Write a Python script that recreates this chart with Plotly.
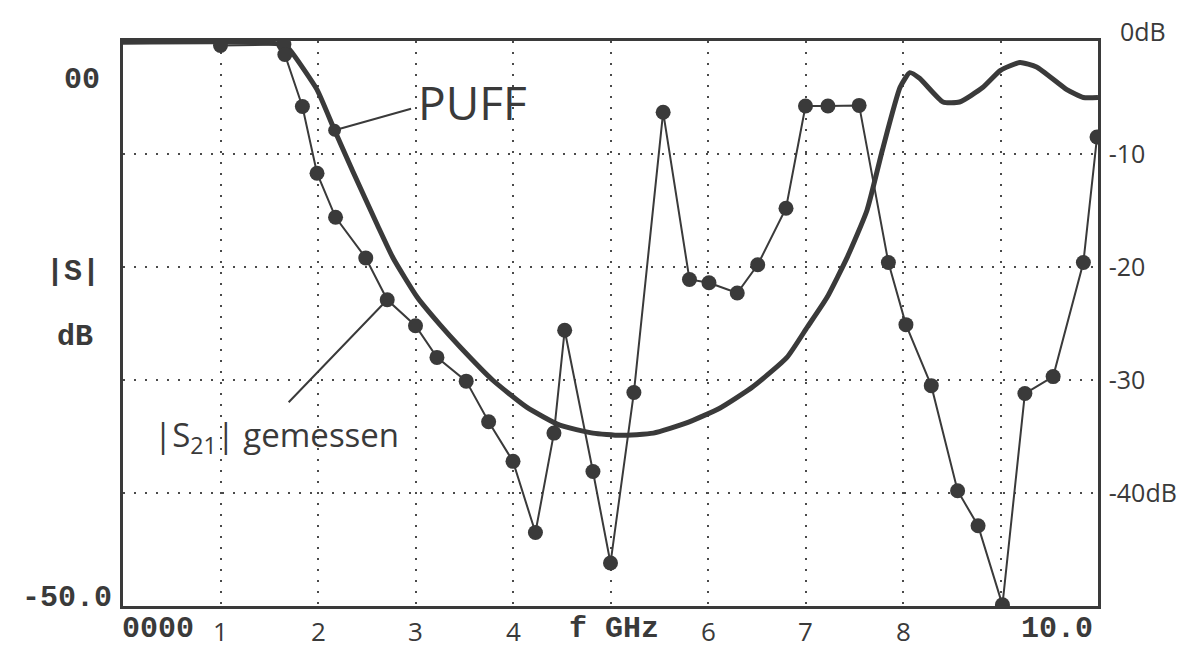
import plotly.graph_objects as go

# ---------------- data ----------------
# Measured |S21| (dB) vs frequency (GHz)
meas_f = [1.00, 1.65, 1.66, 1.84, 1.99, 2.18, 2.49, 2.71, 3.00, 3.22, 3.52, 3.75, 4.00,
          4.23, 4.42, 4.53, 4.82, 5.00, 5.24, 5.54, 5.81, 6.01, 6.30, 6.51, 6.80, 7.00,
          7.23, 7.55, 7.85, 8.03, 8.29, 8.56, 8.77, 9.02, 9.25, 9.54, 9.85, 9.99]
meas_db = [-0.4, -0.3, -1.2, -5.8, -11.7, -15.6, -19.2, -22.9, -25.2, -28.0, -30.1, -33.7, -37.2,
           -43.5, -34.7, -25.6, -38.1, -46.2, -31.1, -6.3, -21.1, -21.4, -22.3, -19.8, -14.8, -5.75,
           -5.75, -5.7, -19.6, -25.1, -30.5, -39.8, -42.9, -49.9, -31.2, -29.7, -19.6, -8.5]

# PUFF simulation (dB) vs frequency (GHz)
puff_f = [0.0, 1.30, 1.66, 1.74, 1.99, 2.17, 2.36, 2.61, 2.77, 3.02, 3.25, 3.46, 3.79, 4.14,
          4.48, 4.82, 5.10, 5.44, 5.78, 6.12, 6.46, 6.81, 7.02, 7.22, 7.43, 7.63, 7.79, 7.97,
          8.07, 8.17, 8.41, 8.58, 8.82, 9.00, 9.20, 9.37, 9.68, 9.85, 10.0]
puff_db = [-0.1, -0.1, -0.35, -1.1, -4.3, -7.9, -11.6, -16.3, -19.2, -22.7, -25.1, -27.1, -30.0, -32.4,
           -34.0, -34.7, -34.9, -34.7, -33.8, -32.5, -30.6, -28.0, -25.3, -22.7, -19.1, -15.0, -9.6, -4.1,
           -2.8, -3.3, -5.4, -5.4, -4.1, -2.6, -1.9, -2.3, -4.3, -5.0, -5.0]

x_tick_vals = [1, 2, 3, 4, 6, 7, 8]
x_tick_text = ["1", "2", "3", "4", "6", "7", "8"]
y_tick_vals = [-10, -20, -30, -40]
y_tick_text = ["-10", "-20", "-30", "-40dB"]

# ---------------- styling ----------------
INK = "#3a3a3a"
GRID = "#4a4a4a"
MONO = "Liberation Mono, DejaVu Sans Mono, monospace"
HAND = "Open Sans, Noto Sans, sans-serif"
MS = 30  # plotter text size

OFF = 8  # default page body margin
W, H = 1199 - OFF, 648 - OFF
L, T = 123 - OFF, 41 - OFF
PW, PH = 975, 565
R = W - L - PW
B = H - T - PH


def px(xp):  # reference page pixel -> paper x
    return (xp - 123) / PW


def py(yp):  # reference page pixel -> paper y
    return (606 - yp) / PH


fig = go.Figure()

fig.add_trace(go.Scatter(
    x=puff_f, y=puff_db, mode="lines", name="PUFF",
    line=dict(color=INK, width=5, shape="spline", smoothing=0.5),
    hoverinfo="skip"))

fig.add_trace(go.Scatter(
    x=meas_f, y=meas_db, mode="lines+markers", name="|S21| gemessen",
    line=dict(color=INK, width=2),
    marker=dict(color=INK, size=15, line=dict(width=0)),
    hoverinfo="skip"))

annotations = []

# x tick labels (handwritten digits)
for v, t in zip(x_tick_vals, x_tick_text):
    annotations.append(dict(x=v, xref="x", xanchor="center", y=0, yref="paper",
                            yanchor="top", yshift=-5, text=t, showarrow=False,
                            font=dict(family=HAND, size=26, color=INK)))

# plotter labels
annotations += [
    dict(x=px(158), xref="paper", xanchor="center", y=0, yref="paper", yanchor="top", yshift=-4,
         text="<b>0000</b>", showarrow=False, font=dict(family=MONO, size=MS, color=INK)),
    dict(x=px(614), xref="paper", xanchor="center", y=0, yref="paper", yanchor="top", yshift=-4,
         text="<b>f GHz</b>", showarrow=False, font=dict(family=MONO, size=MS, color=INK)),
    dict(x=px(1057), xref="paper", xanchor="center", y=0, yref="paper", yanchor="top", yshift=-4,
         text="<b>10.0</b>", showarrow=False, font=dict(family=MONO, size=MS, color=INK)),
    dict(x=px(102), xref="paper", xanchor="right", y=py(80), yref="paper", yanchor="middle",
         text="<b>00</b>", showarrow=False, font=dict(family=MONO, size=MS, color=INK)),
    dict(x=px(114), xref="paper", xanchor="right", y=py(598), yref="paper", yanchor="middle",
         text="<b>-50.0</b>", showarrow=False, font=dict(family=MONO, size=MS, color=INK)),
    dict(x=px(73), xref="paper", xanchor="center", y=py(272), yref="paper", yanchor="middle",
         text="<b>|S|</b>", showarrow=False, font=dict(family=MONO, size=MS, color=INK)),
    dict(x=px(75), xref="paper", xanchor="center", y=py(337), yref="paper", yanchor="middle",
         text="<b>dB</b>", showarrow=False, font=dict(family=MONO, size=MS, color=INK)),
    # right-top handwritten 0dB
    dict(x=px(1118), xref="paper", xanchor="left", y=py(31), yref="paper", yanchor="middle",
         text="0dB", showarrow=False, font=dict(family=HAND, size=25, color=INK)),
    # curve labels
    dict(x=px(416), xref="paper", xanchor="left", y=py(102), yref="paper", yanchor="middle",
         text="PUFF", showarrow=False, font=dict(family=HAND, size=46, color=INK)),
    dict(x=px(152), xref="paper", xanchor="left", y=py(437), yref="paper", yanchor="middle",
         text="|S<sub>21</sub>| gemessen", showarrow=False,
         font=dict(family=HAND, size=33, color=INK)),
    # pointer lines
    dict(x=2.17, xref="x", y=-7.9, yref="y", ax=78, ay=-22, axref="pixel", ayref="pixel",
         text="", showarrow=True, arrowhead=6, arrowsize=1.6, arrowwidth=2, arrowcolor=INK,
         standoff=0),
    dict(x=2.71, xref="x", y=-22.9, yref="y", ax=-100, ay=104, axref="pixel", ayref="pixel",
         text="", showarrow=True, arrowhead=0, arrowwidth=2, arrowcolor=INK, standoff=0),
]

fig.update_layout(
    width=W, height=H,
    margin=dict(l=L, r=R, t=T, b=B, autoexpand=False),
    paper_bgcolor="white", plot_bgcolor="white",
    showlegend=False,
    annotations=annotations,
    xaxis=dict(range=[0, 10], tickvals=list(range(1, 10)), showticklabels=False,
               showgrid=True, gridcolor=GRID, gridwidth=1.5, griddash="2px,9px",
               zeroline=False, showline=True, mirror=True, linecolor=INK, linewidth=3,
               ticks=""),
    yaxis=dict(range=[-50, 0], side="right", tickvals=y_tick_vals, ticktext=y_tick_text,
               tickfont=dict(family=HAND, size=25, color=INK), ticklabelstandoff=3,
               showgrid=True, gridcolor=GRID, gridwidth=1.5, griddash="2px,9px",
               zeroline=False, showline=True, mirror=True, linecolor=INK, linewidth=2.5,
               ticks=""),
)

fig.write_html("out.html")
